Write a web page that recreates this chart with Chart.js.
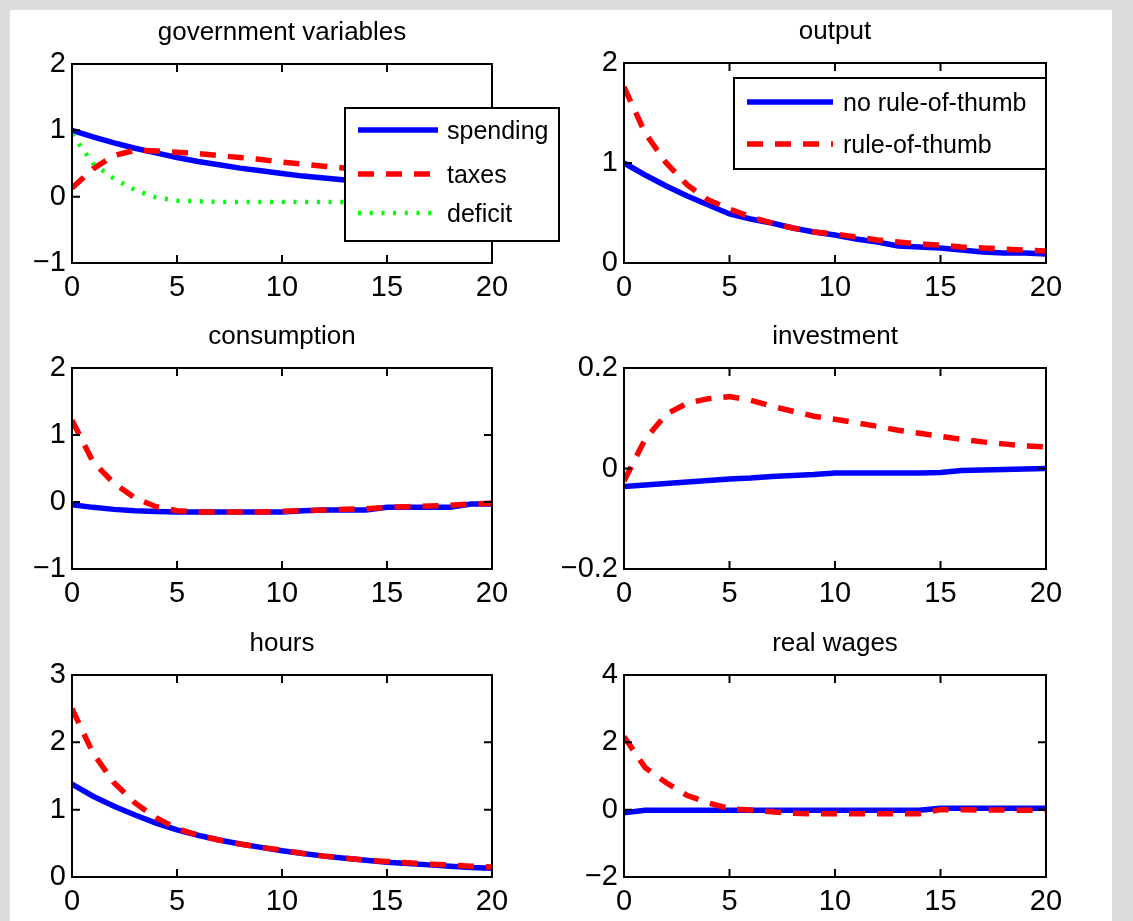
<!DOCTYPE html>
<html><head><meta charset="utf-8">
<script src="https://cdn.jsdelivr.net/npm/chart.js@4/dist/chart.umd.min.js"></script>
<style>
html,body{margin:0;padding:0;width:1133px;height:921px;overflow:hidden;background:#dcdcdc;}
#sheet{position:absolute;left:10px;top:10px;width:1102px;height:911px;background:#ffffff;}
canvas{position:absolute;}
</style></head><body>
<div id="sheet"></div>
<canvas id="c1"></canvas><canvas id="c2"></canvas><canvas id="c3"></canvas>
<canvas id="c4"></canvas><canvas id="c5"></canvas><canvas id="c6"></canvas>
<script>
// ---------- data ----------
const periods = [0,1,2,3,4,5,6,7,8,9,10,11,12,13,14,15,16,17,18,19,20];
const xTickValues = [0,5,10,15,20];

const titles = ["government variables","output","consumption","investment","hours","real wages"];
const govLabels = ["spending","taxes","deficit"];
const rotLabels = ["no rule-of-thumb","rule-of-thumb"];

const govSpending = [1.00,0.90,0.81,0.73,0.66,0.59,0.53,0.48,0.43,0.39,0.35,0.31,0.28,0.25,0.23,0.21,0.19,0.17,0.15,0.14,0.12];
const govTaxes    = [0.13,0.42,0.62,0.70,0.69,0.67,0.65,0.62,0.59,0.56,0.52,0.49,0.46,0.43,0.40,0.38,0.35,0.33,0.31,0.29,0.27];
const govDeficit  = [0.94,0.50,0.27,0.10,-0.01,-0.06,-0.07,-0.08,-0.08,-0.08,-0.08,-0.08,-0.08,-0.08,-0.08,-0.08,-0.08,-0.08,-0.08,-0.08,-0.08];

const outputNoRot = [1.00,0.88,0.77,0.67,0.58,0.49,0.44,0.40,0.35,0.31,0.28,0.24,0.21,0.17,0.16,0.15,0.13,0.11,0.10,0.10,0.09];
const outputRot   = [1.76,1.30,1.00,0.78,0.63,0.54,0.46,0.40,0.35,0.31,0.29,0.26,0.23,0.21,0.19,0.18,0.16,0.15,0.14,0.13,0.12];

const consNoRot = [-0.04,-0.08,-0.11,-0.13,-0.14,-0.15,-0.15,-0.15,-0.15,-0.15,-0.15,-0.13,-0.12,-0.12,-0.12,-0.08,-0.08,-0.08,-0.08,-0.03,-0.03];
const consRot   = [1.22,0.60,0.28,0.06,-0.07,-0.13,-0.15,-0.15,-0.15,-0.15,-0.14,-0.13,-0.12,-0.11,-0.10,-0.08,-0.07,-0.06,-0.05,-0.03,-0.02];

const invNoRot = [-0.036,-0.033,-0.030,-0.027,-0.024,-0.021,-0.019,-0.016,-0.014,-0.012,-0.009,-0.009,-0.009,-0.009,-0.009,-0.008,-0.004,-0.003,-0.002,-0.001,0.000];
const invRot   = [-0.025,0.058,0.108,0.130,0.139,0.143,0.136,0.124,0.114,0.104,0.098,0.091,0.084,0.076,0.070,0.064,0.058,0.053,0.049,0.045,0.043];

const hoursNoRot = [1.38,1.20,1.05,0.92,0.80,0.70,0.62,0.55,0.49,0.44,0.39,0.35,0.31,0.28,0.25,0.22,0.20,0.18,0.16,0.14,0.13];
const hoursRot   = [2.50,1.84,1.40,1.10,0.88,0.72,0.62,0.55,0.49,0.44,0.40,0.35,0.31,0.28,0.25,0.23,0.21,0.19,0.18,0.16,0.15];

const wageNoRot = [-0.09,-0.02,-0.02,-0.02,-0.02,-0.02,-0.02,-0.02,-0.02,-0.02,-0.02,-0.02,-0.02,-0.02,-0.02,0.04,0.04,0.04,0.04,0.04,0.04];
const wageRot   = [2.17,1.25,0.80,0.42,0.20,0.03,-0.01,-0.06,-0.11,-0.12,-0.12,-0.12,-0.12,-0.12,-0.12,0.00,0.00,-0.01,-0.01,-0.02,-0.02];

const yTicksGov  = [-1,0,1,2];
const yTicksOut  = [0,1,2];
const yTicksCons = [-1,0,1,2];
const yTicksInv  = [-0.2,0,0.2];
const yTicksHrs  = [0,1,2,3];
const yTicksWage = [-2,0,2,4];

// ---------- styling / layout ----------
const FONT = "'Liberation Sans', Arial, Helvetica, sans-serif";
const Y_W = 72, TITLE_H = 50, X_H = 44;
const SOLID = {borderColor:'#0000ff', borderWidth:5.5};
const DASHED = {borderColor:'#ff0000', borderWidth:5.5, borderDash:[16,12]};
const DOTTED = {borderColor:'#00ff00', borderWidth:4.5, borderDash:[3,8.7]};

function series(label, values, style, order) {
  return Object.assign({label, data: periods.map((t,i)=>({x:t, y:values[i]})), pointRadius:0, tension:0, fill:false, order}, style);
}
function fmt(v) {
  if (Math.abs(v) < 1e-9) return '0';
  const s = String(Math.round(Math.abs(v)*1000)/1000);
  return v < 0 ? '\u2212' + s : s;
}

function framePlugin(legend) {
  return {
    id: 'frame',
    afterDraw(chart) {
      const ctx = chart.ctx, a = chart.chartArea;
      const xs = chart.scales.x, ys = chart.scales.y;
      ctx.save();
      ctx.strokeStyle = '#000'; ctx.lineWidth = 2;
      ctx.strokeRect(a.left, a.top, a.right - a.left, a.bottom - a.top);
      const TL = 8;
      ctx.beginPath();
      xs.ticks.forEach(t => {
        const px = xs.getPixelForValue(t.value);
        ctx.moveTo(px, a.bottom); ctx.lineTo(px, a.bottom - TL);
        ctx.moveTo(px, a.top); ctx.lineTo(px, a.top + TL);
      });
      ys.ticks.forEach(t => {
        const py = ys.getPixelForValue(t.value);
        ctx.moveTo(a.left, py); ctx.lineTo(a.left + TL, py);
        ctx.moveTo(a.right, py); ctx.lineTo(a.right - TL, py);
      });
      ctx.stroke();
      if (legend) {
        const L = a.right + legend.dx, T = a.top + legend.dy;
        ctx.fillStyle = '#fff';
        ctx.fillRect(L, T, legend.w, legend.h);
        ctx.lineWidth = 2; ctx.strokeStyle = '#000';
        ctx.strokeRect(L, T, legend.w, legend.h);
        chart.data.datasets.forEach((ds, i) => {
          const y = T + legend.rows[i];
          ctx.save();
          ctx.strokeStyle = ds.borderColor; ctx.lineWidth = ds.borderWidth;
          ctx.setLineDash(ds.borderDash || []);
          ctx.beginPath(); ctx.moveTo(L + legend.s0, y); ctx.lineTo(L + legend.s1, y); ctx.stroke();
          ctx.restore();
          ctx.fillStyle = '#000'; ctx.font = legend.font + 'px ' + FONT;
          ctx.textBaseline = 'middle'; ctx.textAlign = 'left';
          ctx.fillText(ds.label, L + legend.tx, y + 2);
        });
      }
      ctx.restore();
    }
  };
}

function panel(id, box, title, datasets, yMin, yMax, yTicks, padRight, legend) {
  const c = document.getElementById(id);
  const w = Y_W + box.w + padRight, h = TITLE_H + box.h + X_H;
  c.width = w; c.height = h;
  c.style.width = w + 'px'; c.style.height = h + 'px';
  c.style.left = (box.x - Y_W) + 'px'; c.style.top = (box.y - TITLE_H) + 'px';
  const zeroPad = s => { s.paddingLeft = 0; s.paddingRight = 0; s.paddingTop = 0; s.paddingBottom = 0; };
  new Chart(c, {
    type: 'line',
    data: {datasets},
    options: {
      responsive: false, animation: false, devicePixelRatio: 1,
      layout: {padding: {left: 0, top: 0, right: padRight, bottom: 0}},
      plugins: {
        legend: {display: false}, tooltip: {enabled: false},
        title: {display: true, text: title, fullSize: false, color: '#000',
                font: {family: FONT, size: 26, weight: 'normal', lineHeight: 1.2},
                padding: {top: 3.4, bottom: 15.4}}
      },
      scales: {
        x: {type: 'linear', min: 0, max: 20,
            afterBuildTicks: s => { s.ticks = xTickValues.map(v => ({value: v})); },
            afterFit: s => { s.height = X_H; zeroPad(s); },
            grid: {display: false, drawTicks: false}, border: {display: false},
            ticks: {color: '#000', font: {family: FONT, size: 29}, padding: 8, maxRotation: 0, autoSkip: false,
                    callback: v => fmt(v)}},
        y: {type: 'linear', min: yMin, max: yMax,
            afterBuildTicks: s => { s.ticks = yTicks.map(v => ({value: v})); },
            afterFit: s => { s.width = Y_W; zeroPad(s); },
            grid: {display: false, drawTicks: false}, border: {display: false},
            ticks: {color: '#000', font: {family: FONT, size: 29}, padding: 6, autoSkip: false,
                    callback: v => fmt(v)}}
      }
    },
    plugins: [framePlugin(legend)]
  });
}

const govLegend = {dx: -147, dy: 44, w: 214, h: 133, rows: [22, 66, 105], s0: 13, s1: 93, tx: 102, font: 25};
const rotLegend = {dx: -312, dy: 15, w: 312, h: 91, rows: [24, 66], s0: 13, s1: 99, tx: 109, font: 25};

panel('c1', {x:72, y:64, w:420, h:199}, titles[0], [
  series(govLabels[0], govSpending, SOLID, 3),
  series(govLabels[1], govTaxes, DASHED, 2),
  series(govLabels[2], govDeficit, DOTTED, 1)
], -1, 2, yTicksGov, 75, govLegend);

panel('c2', {x:624, y:63, w:422, h:200}, titles[1], [
  series(rotLabels[0], outputNoRot, SOLID, 2),
  series(rotLabels[1], outputRot, DASHED, 1)
], 0, 2, yTicksOut, 30, rotLegend);

panel('c3', {x:72, y:368, w:420, h:201}, titles[2], [
  series(rotLabels[0], consNoRot, SOLID, 2),
  series(rotLabels[1], consRot, DASHED, 1)
], -1, 2, yTicksCons, 30, null);

panel('c4', {x:624, y:368, w:422, h:201}, titles[3], [
  series(rotLabels[0], invNoRot, SOLID, 2),
  series(rotLabels[1], invRot, DASHED, 1)
], -0.2, 0.2, yTicksInv, 30, null);

panel('c5', {x:72, y:675, w:420, h:202}, titles[4], [
  series(rotLabels[0], hoursNoRot, SOLID, 2),
  series(rotLabels[1], hoursRot, DASHED, 1)
], 0, 3, yTicksHrs, 30, null);

panel('c6', {x:624, y:675, w:422, h:202}, titles[5], [
  series(rotLabels[0], wageNoRot, SOLID, 2),
  series(rotLabels[1], wageRot, DASHED, 1)
], -2, 4, yTicksWage, 30, null);
</script>
</body></html>
